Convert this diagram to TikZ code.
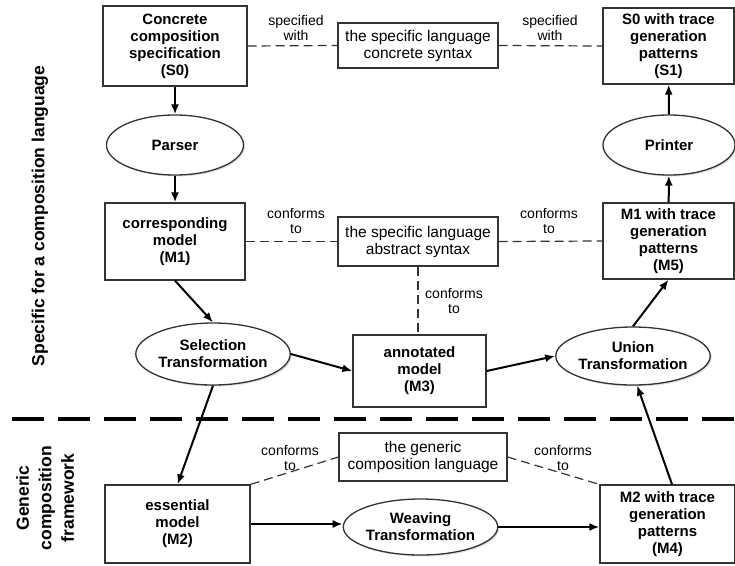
\documentclass[tikz,border=0pt]{standalone}
\usepackage{fontspec}
\setmainfont{Liberation Sans}
\usetikzlibrary{arrows.meta,shapes.geometric,shadows}

\tikzset{
  every picture/.style={x=1pt,y=-1pt},
  boxed/.style={draw=black!80, line width=1.3pt, rectangle, inner sep=0pt,
    align=center, font=\fontsize{15}{17}\selectfont\bfseries},
  meta/.style={draw=black!80, line width=1.2pt, rectangle, inner sep=0pt,
    align=center, font=\fontsize{15.5}{17}\selectfont},
  proc/.style={draw=black!80, line width=1.3pt, ellipse, inner sep=0pt,
    fill=white, align=center, font=\fontsize{15}{17}\selectfont\bfseries,
    drop shadow={shadow xshift=1.5pt, shadow yshift=-1.5pt, opacity=0.25}},
  relabel/.style={align=center, inner sep=0pt, font=\fontsize{14}{15}\selectfont},
  flow/.style={line width=2pt, -{Latex[length=10pt,width=8pt]}},
  rel/.style={line width=1.2pt, draw=black!80, dash pattern=on 9pt off 5pt},
  sectionline/.style={line width=3.5pt, dash pattern=on 32pt off 14pt},
  sidelabel/.style={align=center, inner sep=0pt, rotate=90,
    font=\fontsize{17.5}{22.5}\selectfont\bfseries},
}

\begin{document}
\begin{tikzpicture}
\useasboundingbox (0,0) rectangle (735,565);

% concrete level
\node[boxed, minimum width=144pt, minimum height=80pt] (s0) at (175,46)
  {Concrete\\composition\\specification\\(S0)};
\node[meta, minimum width=160pt, minimum height=45pt] (cs) at (418,45.5)
  {the specific language\\concrete syntax};
\node[boxed, minimum width=131pt, minimum height=76pt] (s1) at (668.5,46)
  {S0 with trace\\generation\\patterns\\(S1)};

\node[proc, minimum width=137pt, minimum height=60pt] (parser) at (175,145) {Parser};
\node[proc, minimum width=132pt, minimum height=60pt] (printer) at (669,145) {Printer};

% model level
\node[boxed, minimum width=140pt, minimum height=77pt] (m1) at (175,241.5)
  {corresponding\\model\\(M1)};
\node[meta, minimum width=160pt, minimum height=49pt] (as) at (418,241.5)
  {the specific language\\abstract syntax};
\node[boxed, minimum width=131pt, minimum height=76pt] (m5) at (668.5,241)
  {M1 with trace\\generation\\patterns\\(M5)};

\node[proc, minimum width=138pt, minimum height=62pt] (sel) at (213,354)
  {Selection\\Transformation};
\node[boxed, minimum width=133pt, minimum height=72pt] (m3) at (419.5,371)
  {annotated\\model\\(M3)};
\node[proc, minimum width=138pt, minimum height=58pt] (union) at (633,356)
  {Union\\Transformation};

% separator between the two layers
\coordinate (sepl) at (12,419);
\coordinate (sepr) at (735,419);
\draw[sectionline] (sepl) -- (sepr);

% generic framework level
\node[meta, minimum width=168pt, minimum height=48pt] (gcl) at (423,457)
  {the generic\\composition language};
\node[boxed, minimum width=145pt, minimum height=78pt] (m2) at (177.5,524)
  {essential\\model\\(M2)};
\node[proc, minimum width=137pt, minimum height=56pt] (weave) at (420.5,527)
  {Weaving\\Transformation};
\node[boxed, minimum width=135pt, minimum height=78pt] (m4) at (667.5,524)
  {M2 with trace\\generation\\patterns\\(M4)};

% side titles
\node[sidelabel] (spec) at (40,216) {Specific for a composition language};
\node[sidelabel] (gen) at (45,498) {Generic\\composition\\framework};

% transformation chain
\draw[flow] (s0) -- (parser);
\draw[flow] (parser) -- (m1);
\draw[flow] (m1.south) -- (sel.north);
\draw[flow] (sel.east) -- (m3.west);
\draw[flow] (m3.east) -- (union.west);
\draw[flow] (union.north) -- (m5.south);
\draw[flow] (m5) -- (printer);
\draw[flow] (printer) -- (s1);
\draw[flow] (sel.south) -- (m2.north);
\draw[flow] (m2.east) -- (m2.east -| weave.west);
\draw[flow] (weave.east) -- (weave.east -| m4.west);
\draw[flow] ([xshift=4.5pt]m4.north) -- (union.-82);

% relations to the languages
\draw[rel] (s0.east) -- (cs.west);
\draw[rel] (cs.east) -- (s1.west);
\draw[rel] (m1.east) -- (as.west);
\draw[rel] (as.east) -- (m5.west);
\draw[rel] (as.south) -- (as.south |- m3.north);
\draw[rel] (m2.north east) -- (gcl.west);
\draw[rel] (gcl.east) -- (m4.north west);

\node[relabel] (l1) at (296,28) {specified\\with};
\node[relabel] (l2) at (550,28) {specified\\with};
\node[relabel] (l3) at (296,220.5) {conforms\\to};
\node[relabel] (l4) at (549,220.5) {conforms\\to};
\node[relabel] (l5) at (454,300.5) {conforms\\to};
\node[relabel] (l6) at (290,458) {conforms\\to};
\node[relabel] (l7) at (563,458) {conforms\\to};
\end{tikzpicture}
\end{document}
